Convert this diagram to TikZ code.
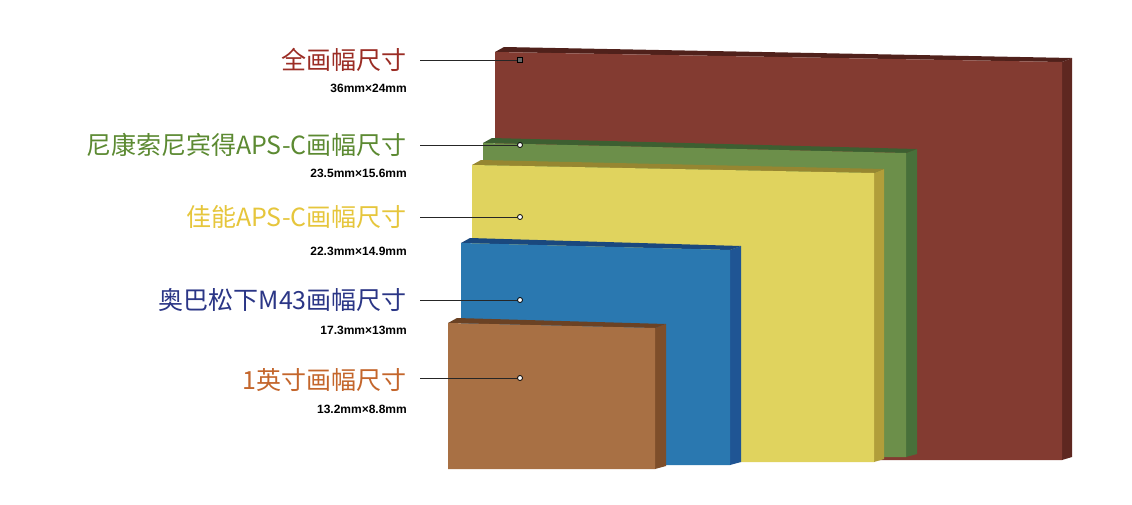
\documentclass[tikz,border=0pt]{standalone}
\usepackage{fontspec}
\setmainfont{Liberation Sans}
\newfontfamily\cjk{Noto Sans CJK SC}
\definecolor{tred}{HTML}{9B2D25}
\definecolor{tgreen}{HTML}{5C8A32}
\definecolor{tyellow}{HTML}{E6C63C}
\definecolor{tblue}{HTML}{2B3686}
\definecolor{tbrown}{HTML}{C4662C}
\definecolor{pred}{HTML}{833B31}
\definecolor{sred}{HTML}{5E2720}
\definecolor{pgreen}{HTML}{6C8F4A}
\definecolor{sgreen}{HTML}{48703A}
\definecolor{pyellow}{HTML}{E0D35E}
\definecolor{syellow}{HTML}{B19E3A}
\definecolor{pblue}{HTML}{2A78B0}
\definecolor{sblue}{HTML}{1F5594}
\definecolor{pbrown}{HTML}{A87044}
\definecolor{sbrown}{HTML}{7E4E2A}
\newcommand\mkslab[8]{% front, side, x1, ytl, x2, ytr, yb, dx
  \fill[#2] (#5,#6) -- (#5+#8,#6-4) -- (#5+#8,#7-3) -- (#5,#7) -- cycle;
  \fill[#2!85!black] (#3,#4) -- (#3+9,#4-5) -- (#5+#8,#6-4) -- (#5,#6) -- cycle;
  \fill[#1] (#3,#4) -- (#5,#6) -- (#5,#7) -- (#3,#7) -- cycle;
}
\tikzset{
  title/.style={anchor=east,font=\cjk\fontsize{25}{27}\selectfont,inner sep=0pt},
  dims/.style={anchor=east,font=\bfseries\fontsize{12}{14}\selectfont,inner sep=0pt},
  pin/.style={circle,draw=black,fill=white,line width=0.8pt,minimum size=5pt,inner sep=0pt},
  pinsq/.style={rectangle,draw=black,fill=black!60,line width=0.6pt,minimum size=5pt,inner sep=0pt},
  lead/.style={line width=1pt,black!85}
}
\begin{document}
\begin{tikzpicture}[x=1pt,y=-1pt]
\fill[white] (0,0) rectangle (1132,504);
\useasboundingbox (0,0) rectangle (1132,504);
\mkslab{pred}{sred}{495}{52}{1062}{62}{460}{10}
\mkslab{pgreen}{sgreen}{483}{143}{906}{153}{457}{11}
\mkslab{pyellow}{syellow}{472}{165}{874}{173}{462}{10}
\mkslab{pblue}{sblue}{461}{243}{730}{250}{465}{11}
\mkslab{pbrown}{sbrown}{448}{323}{655}{328}{469}{11}

\node[title,text=tred] (t1) at (407,60) {全画幅尺寸};
\node[dims] (m1) at (407,88) {36mm×24mm};
\node[title,text=tgreen] (t2) at (407,145) {尼康索尼宾得APS-C画幅尺寸};
\node[dims] (m2) at (407,173) {23.5mm×15.6mm};
\node[title,text=tyellow] (t3) at (407,217) {佳能APS-C画幅尺寸};
\node[dims] (m3) at (407,251) {22.3mm×14.9mm};
\node[title,text=tblue] (t4) at (407,300) {奥巴松下M43画幅尺寸};
\node[dims] (m4) at (407,330) {17.3mm×13mm};
\node[title,text=tbrown] (t5) at (407,380) {1英寸画幅尺寸};
\node[dims] (m5) at (407,409) {13.2mm×8.8mm};

\coordinate (c1) at (420,60);
\coordinate (c2) at (420,145);
\coordinate (c3) at (420,217);
\coordinate (c4) at (420,300);
\coordinate (c5) at (420,378);
\node[pinsq] (d1) at (520,60) {};
\node[pin] (d2) at (520,145) {};
\node[pin] (d3) at (520,217) {};
\node[pin] (d4) at (520,300) {};
\node[pin] (d5) at (520,378) {};
\draw[lead] (c1) -- (d1);
\draw[lead] (c2) -- (d2);
\draw[lead] (c3) -- (d3);
\draw[lead] (c4) -- (d4);
\draw[lead] (c5) -- (d5);
\end{tikzpicture}
\end{document}
